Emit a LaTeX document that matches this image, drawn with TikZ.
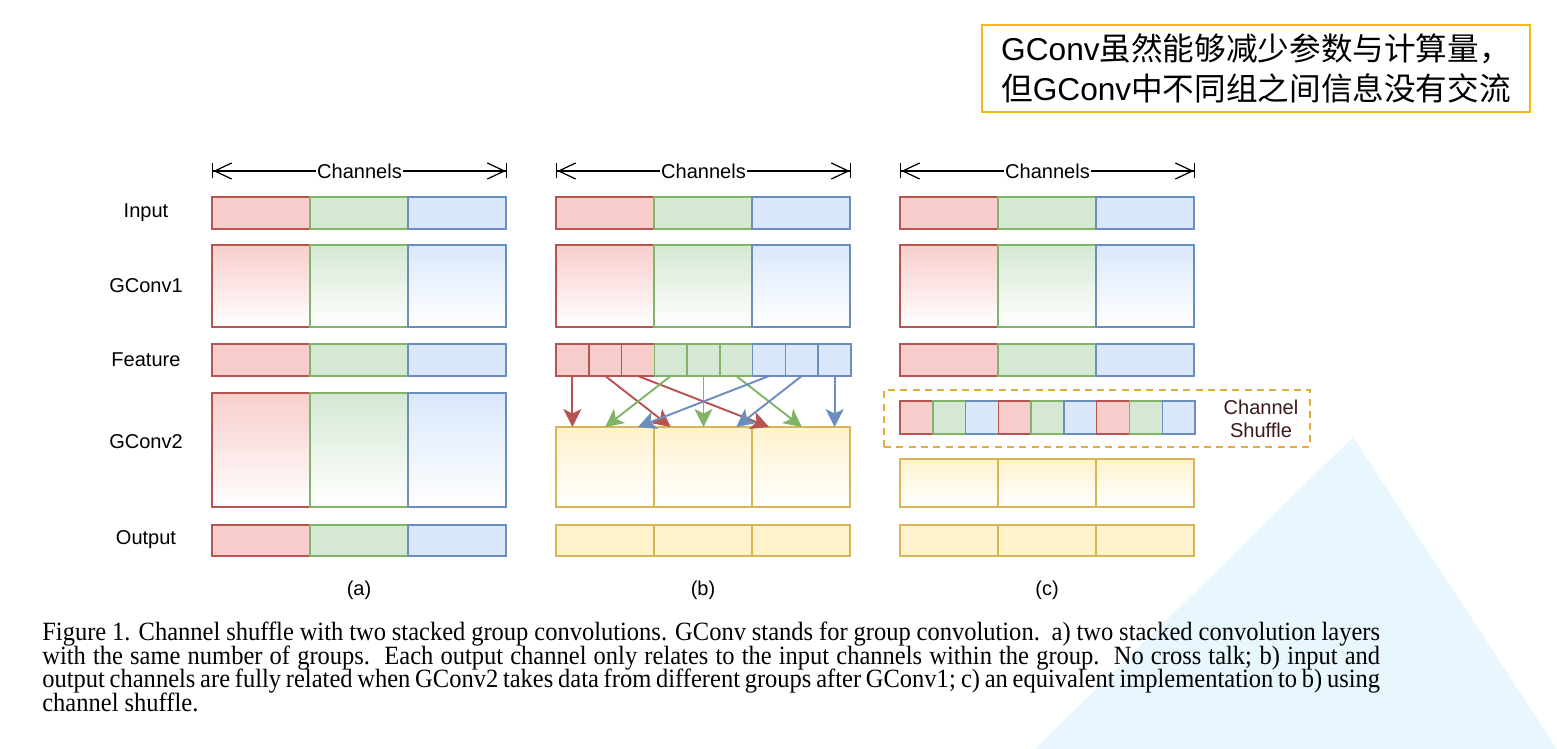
\documentclass[tikz,border=0pt]{standalone}
\usepackage{fontspec}
\setmainfont{Liberation Serif}
\newfontfamily\capfont[FakeStretch=0.93]{Liberation Serif}
\newfontfamily\lab{Liberation Sans}
\newfontfamily\cjk{Noto Sans CJK SC}
\usepackage{tikz}
\usetikzlibrary{arrows.meta}
\definecolor{rfill}{HTML}{F8CECC}
\definecolor{rline}{HTML}{B85450}
\definecolor{gfill}{HTML}{D5E8D4}
\definecolor{gline}{HTML}{82B366}
\definecolor{bfill}{HTML}{DAE8FC}
\definecolor{bline}{HTML}{6C8EBF}
\definecolor{yfill}{HTML}{FFF2CC}
\definecolor{yline}{HTML}{D6B656}
\definecolor{shufline}{HTML}{E0AE3A}
\definecolor{shuftext}{HTML}{3A1A1A}
\definecolor{noteline}{HTML}{F6B818}
\definecolor{wmark}{HTML}{E8F6FD}
\tikzset{
  cell/.style={draw,line width=.8pt,inner sep=0pt,outer sep=0pt,minimum width=1.96cm},
  small/.style={minimum width=.6556cm},
  rcell/.style={cell,fill=rfill,draw=rline},
  gcell/.style={cell,fill=gfill,draw=gline},
  bcell/.style={cell,fill=bfill,draw=bline},
  ycell/.style={cell,fill=yfill,draw=yline},
  rgrad/.style={cell,draw=rline,top color=rfill,bottom color=white},
  ggrad/.style={cell,draw=gline,top color=gfill,bottom color=white},
  bgrad/.style={cell,draw=bline,top color=bfill,bottom color=white},
  ygrad/.style={cell,draw=yline,top color=yfill,bottom color=white},
  rowlbl/.style={font=\lab\fontsize{11.4}{13}\selectfont},
  chlbl/.style={font=\lab\fontsize{11.4}{13}\selectfont,fill=white,inner sep=.5pt},
  dimline/.style={{Bar[width=3mm]Straight Barb[length=3.4mm,width=3.2mm]}-{Straight Barb[length=3.4mm,width=3.2mm]Bar[width=3mm]},line width=.7pt},
  flow/.style={-{Stealth[length=3.6mm,width=3.6mm,inset=.9mm]},line width=1.1pt},
  shufbox/.style={draw=shufline,dashed,dash pattern=on 4pt off 3pt,line width=1pt,inner sep=0pt,outer sep=0pt},
  note/.style={draw=noteline,line width=1.4pt,fill=white,align=left,inner sep=0pt,font=\cjk\fontsize{18}{22.7}\selectfont},
  capline/.style={anchor=base west,inner sep=0pt,font=\capfont\fontsize{15}{16}\selectfont}
}
\begin{document}
\begin{tikzpicture}[x=.02cm,y=-.02cm]
% pixel grid, y downwards
\useasboundingbox (0,0) rectangle (1557,749);
\fill[wmark] (1353,437) -- (1035,749) -- (1557,749) -- cycle;

\node[note,minimum width=10.96cm,minimum height=1.74cm] (note) at (1256,68.5) {{\lab GConv}虽然能够减少参数与计算量，\\但{\lab GConv}中不同组之间信息没有交流};

\node[rowlbl] (lin) at (146,213) {Input};
\node[rowlbl] (lc1) at (146,286) {GConv1};
\node[rowlbl] (lft) at (146,360) {Feature};
\node[rowlbl] (lc2) at (146,442) {GConv2};
\node[rowlbl] (lout) at (146,540) {Output};

% (a)
\coordinate (ach1) at (212,171); \coordinate (ach2) at (507,171);
\draw[dimline] (ach1) -- node[chlbl] (achl) {Channels} (ach2);
\node[rcell,minimum height=.64cm] (ai1) at (261,213) {};
\node[gcell,minimum height=.64cm] (ai2) at (359,213) {};
\node[bcell,minimum height=.64cm] (ai3) at (457,213) {};
\node[rgrad,minimum height=1.64cm] (ac1) at (261,286) {};
\node[ggrad,minimum height=1.64cm] (ac2) at (359,286) {};
\node[bgrad,minimum height=1.64cm] (ac3) at (457,286) {};
\node[rcell,minimum height=.64cm] (af1) at (261,360) {};
\node[gcell,minimum height=.64cm] (af2) at (359,360) {};
\node[bcell,minimum height=.64cm] (af3) at (457,360) {};
\node[rgrad,minimum height=2.28cm] (ag1) at (261,450) {};
\node[ggrad,minimum height=2.28cm] (ag2) at (359,450) {};
\node[bgrad,minimum height=2.28cm] (ag3) at (457,450) {};
\node[rcell,minimum height=.62cm] (ao1) at (261,540.5) {};
\node[gcell,minimum height=.62cm] (ao2) at (359,540.5) {};
\node[bcell,minimum height=.62cm] (ao3) at (457,540.5) {};
\node[rowlbl] (pa) at (359,590) {(a)};

% (b)
\coordinate (bch1) at (556,171); \coordinate (bch2) at (851,171);
\draw[dimline] (bch1) -- node[chlbl] (bchl) {Channels} (bch2);
\node[rcell,minimum height=.64cm] (bi1) at (605,213) {};
\node[gcell,minimum height=.64cm] (bi2) at (703,213) {};
\node[bcell,minimum height=.64cm] (bi3) at (801,213) {};
\node[rgrad,minimum height=1.64cm] (bc1) at (605,286) {};
\node[ggrad,minimum height=1.64cm] (bc2) at (703,286) {};
\node[bgrad,minimum height=1.64cm] (bc3) at (801,286) {};
\node[rcell,small,minimum height=.64cm] (bf1) at (572.4,360) {};
\node[rcell,small,minimum height=.64cm] (bf2) at (605.2,360) {};
\node[rcell,small,minimum height=.64cm] (bf3) at (637.9,360) {};
\node[gcell,small,minimum height=.64cm] (bf4) at (670.7,360) {};
\node[gcell,small,minimum height=.64cm] (bf5) at (703.5,360) {};
\node[gcell,small,minimum height=.64cm] (bf6) at (736.3,360) {};
\node[bcell,small,minimum height=.64cm] (bf7) at (769.1,360) {};
\node[bcell,small,minimum height=.64cm] (bf8) at (801.8,360) {};
\node[bcell,small,minimum height=.64cm] (bf9) at (834.6,360) {};
\node[ygrad,minimum height=1.6cm] (bg1) at (605,467) {};
\node[ygrad,minimum height=1.6cm] (bg2) at (703,467) {};
\node[ygrad,minimum height=1.6cm] (bg3) at (801,467) {};
\node[ycell,minimum height=.62cm] (bo1) at (605,540.5) {};
\node[ycell,minimum height=.62cm] (bo2) at (703,540.5) {};
\node[ycell,minimum height=.62cm] (bo3) at (801,540.5) {};
\node[rowlbl] (pb) at (703,590) {(b)};

\draw[flow,color=rline] (bf1.south) -- (bf1.south |- bg1.north);
\draw[flow,color=rline] (bf2.south) -- (bf4.south |- bg2.north);
\draw[flow,color=rline] (bf3.south) -- (bf7.south |- bg3.north);
\draw[flow,color=gline] (bf4.south) -- (bf2.south |- bg1.north);
\draw[flow,color=gline] (bf5.south) -- (bf5.south |- bg2.north);
\draw[flow,color=gline] (bf6.south) -- (bf8.south |- bg3.north);
\draw[flow,color=bline] (bf7.south) -- (bf3.south |- bg1.north);
\draw[flow,color=bline] (bf8.south) -- (bf6.south |- bg2.north);
\draw[flow,color=bline] (bf9.south) -- (bf9.south |- bg3.north);

% (c)
\coordinate (cch1) at (900,171); \coordinate (cch2) at (1195,171);
\draw[dimline] (cch1) -- node[chlbl] (cchl) {Channels} (cch2);
\node[rcell,minimum height=.64cm] (ci1) at (949,213) {};
\node[gcell,minimum height=.64cm] (ci2) at (1047,213) {};
\node[bcell,minimum height=.64cm] (ci3) at (1145,213) {};
\node[rgrad,minimum height=1.64cm] (cc1) at (949,286) {};
\node[ggrad,minimum height=1.64cm] (cc2) at (1047,286) {};
\node[bgrad,minimum height=1.64cm] (cc3) at (1145,286) {};
\node[rcell,minimum height=.64cm] (cf1) at (949,360) {};
\node[gcell,minimum height=.64cm] (cf2) at (1047,360) {};
\node[bcell,minimum height=.64cm] (cf3) at (1145,360) {};
\node[shufbox,minimum width=8.52cm,minimum height=1.14cm] (sbox) at (1097,418.5) {};
\node[rcell,small,minimum height=.66cm] (cs1) at (916.4,417.5) {};
\node[gcell,small,minimum height=.66cm] (cs2) at (949.2,417.5) {};
\node[bcell,small,minimum height=.66cm] (cs3) at (981.9,417.5) {};
\node[rcell,small,minimum height=.66cm] (cs4) at (1014.7,417.5) {};
\node[gcell,small,minimum height=.66cm] (cs5) at (1047.5,417.5) {};
\node[bcell,small,minimum height=.66cm] (cs6) at (1080.3,417.5) {};
\node[rcell,small,minimum height=.66cm] (cs7) at (1113.1,417.5) {};
\node[gcell,small,minimum height=.66cm] (cs8) at (1145.8,417.5) {};
\node[bcell,small,minimum height=.66cm] (cs9) at (1178.6,417.5) {};
\node[rowlbl,text=shuftext,align=center] (stxt) at (1261,419) {Channel\\Shuffle};
\node[ygrad,minimum height=.96cm] (cg1) at (949,483) {};
\node[ygrad,minimum height=.96cm] (cg2) at (1047,483) {};
\node[ygrad,minimum height=.96cm] (cg3) at (1145,483) {};
\node[ycell,minimum height=.62cm] (co1) at (949,540.5) {};
\node[ycell,minimum height=.62cm] (co2) at (1047,540.5) {};
\node[ycell,minimum height=.62cm] (co3) at (1145,540.5) {};
\node[rowlbl] (pc) at (1047,590) {(c)};

% caption
\node[capline] (cap1) at (42,640) {\makebox[26.76cm][s]{Figure 1. Channel shuffle with two stacked group convolutions. GConv stands for group convolution.\ \ a) two stacked convolution layers}};
\node[capline] (cap2) at (42,664) {\makebox[26.76cm][s]{with the same number of groups.\ \ Each output channel only relates to the input channels within the group.\ \ No cross talk; b) input and}};
\node[capline] (cap3) at (42,687.5) {\makebox[26.76cm][s]{output channels are fully related when GConv2 takes data from different groups after GConv1; c) an equivalent implementation to b) using}};
\node[capline] (cap4) at (42,711) {channel shuffle.};
\end{tikzpicture}
\end{document}
